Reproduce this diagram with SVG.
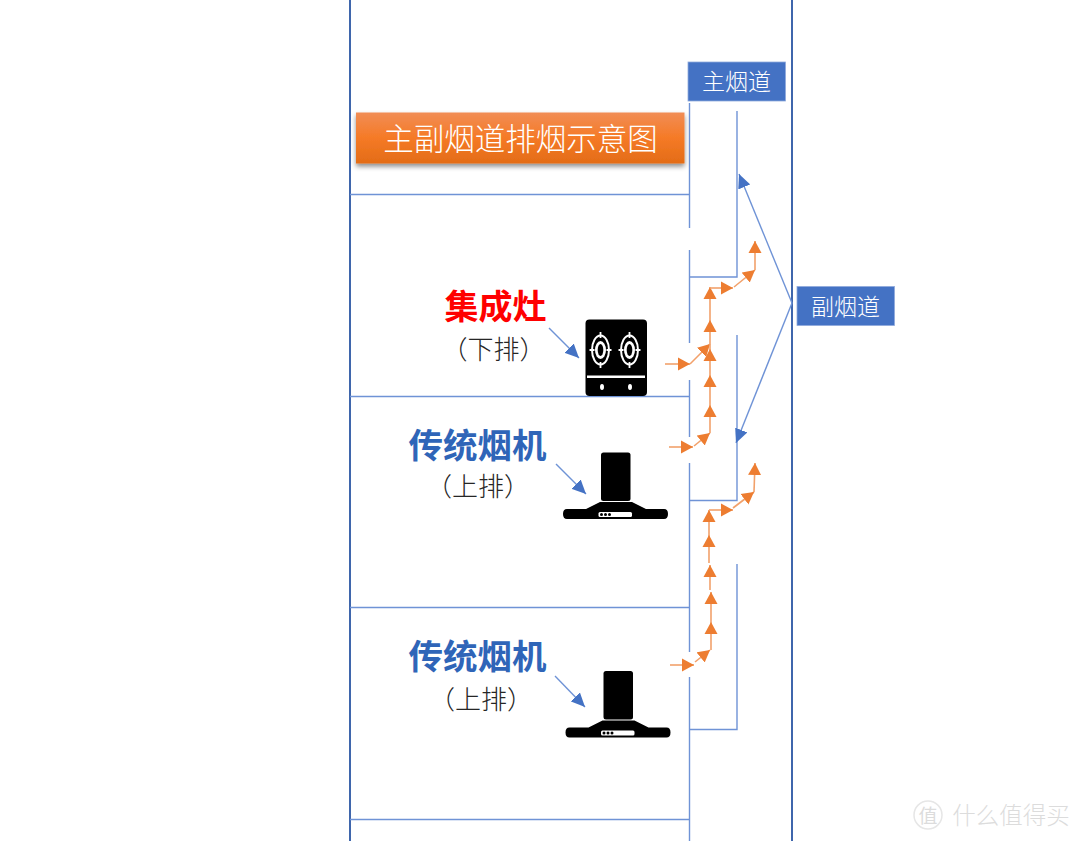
<svg xmlns="http://www.w3.org/2000/svg" width="1080" height="841" viewBox="0 0 1080 841">
<style>
text{font-family:"Noto Sans CJK SC","Noto Sans CJK JP",sans-serif;text-anchor:middle;dominant-baseline:central}
.wall{stroke:#6f93d6;stroke-width:1.4;fill:none}
.outer{stroke:#3f66ac;stroke-width:2;fill:none}
.o{stroke:#f2a16b;stroke-width:1.6;fill:none;marker-end:url(#ao)}
.b{stroke:#6f93d6;stroke-width:1.4;fill:none;marker-end:url(#ab)}
.box{fill:#4472c4;stroke:#8faadc;stroke-width:.8}
.boxt{fill:#fff;font-size:23px;font-weight:300}
.sub{fill:#262626;font-size:26px;font-weight:300}
.hot{fill:#2f65b8;font-size:34.500px;font-weight:700}
.k{fill:#000}.w{fill:#fff}
.ring{fill:none;stroke:#fff;stroke-width:2}
.tick{stroke:#fff;stroke-width:1.800}
</style>
<defs>
<marker id="ao" markerUnits="userSpaceOnUse" markerWidth="13" markerHeight="14" refX="12" refY="7" orient="auto"><path d="M0 .5L12 7L0 13.500Z" fill="#ed7d31"/></marker>
<marker id="ab" markerUnits="userSpaceOnUse" markerWidth="15" markerHeight="14" refX="14" refY="7" orient="auto"><path d="M0 .5L14 7L0 13.500Z" fill="#4472c4"/></marker>
<linearGradient id="og" x1="0" y1="0" x2="0" y2="1"><stop offset="0" stop-color="#f18d55"/><stop offset=".5" stop-color="#f57a26"/><stop offset="1" stop-color="#e36c17"/></linearGradient>
<filter id="sh" x="-5%" y="-20%" width="110%" height="150%"><feDropShadow dx="0" dy="3" stdDeviation="2.500" flood-color="#000" flood-opacity=".45"/></filter>
<g id="hood">
<rect class="k" x="601" y="452.500" width="29.500" height="48.500" rx="2.500"/>
<path class="k" d="M600 502H632L646 509H664Q668 509 668 514Q668 519 664 519H567Q563 519 563 514Q563 509 567 509H586Z"/>
<rect class="w" x="598.500" y="512" width="33.500" height="5" rx="1.500"/>
<circle class="k" cx="601.500" cy="514.500" r="1.500"/><circle class="k" cx="605.500" cy="514.500" r="1.500"/><circle class="k" cx="609.500" cy="514.500" r="1.500"/>
</g>
<g id="burner">
<ellipse class="ring" cx="0" cy="0" rx="8.500" ry="14.500"/>
<ellipse class="w" cx="0" cy="0" rx="5.500" ry="9"/>
<ellipse class="k" cx="0" cy="0" rx="2.800" ry="6"/>
<path class="tick" d="M0-18V-12M0 12V18M-11 0H-6M6 0H11"/>
</g>
</defs>
<rect width="1080" height="841" fill="#fff"/>
<g id="walls">
<path class="outer" d="M350 0V841M792 0V841"/>
<path class="wall" d="M350 194.500H689M350 396.500H689M350 607.500H689M350 819.500H689"/>
<path class="wall" d="M689.500 103V228M689.500 250V343M689.500 380V437M689.500 463V652M689.500 677V841"/>
<path class="wall" d="M737 111V277H689.500M737 335V500.500H689.500M737 564V729.500H689.500"/>
</g>
<g id="connectors">
<path class="b" d="M792 303L739 174"/>
<path class="b" d="M792 303L736 443"/>
<path class="b" d="M549 328L579 358"/>
<path class="b" d="M556 464L586 494"/>
<path class="b" d="M555 676L585 707"/>
<path class="o" d="M665 364H690"/>
<path class="o" d="M690 364L710 344"/>
<path class="o" d="M669 447H693"/>
<path class="o" d="M694 446L710 433"/>
<path class="o" d="M710 433V405"/>
<path class="o" d="M710 405V375"/>
<path class="o" d="M710 375V349"/>
<path class="o" d="M710 349V320"/>
<path class="o" d="M710 320V287"/>
<path class="o" d="M710 288H733"/>
<path class="o" d="M734 287L755 270"/>
<path class="o" d="M755 270V241"/>
<path class="o" d="M670 665H694"/>
<path class="o" d="M695 662L710 650"/>
<path class="o" d="M711 650V622"/>
<path class="o" d="M711 622V592"/>
<path class="o" d="M710 590V565"/>
<path class="o" d="M709 563V535"/>
<path class="o" d="M709 535V510"/>
<path class="o" d="M709 510H733"/>
<path class="o" d="M733 508L754 492"/>
<path class="o" d="M754 492L755 463"/>
</g>
<g id="title">
<rect x="356" y="112.500" width="328.500" height="51" fill="url(#og)" filter="url(#sh)"/>
<text x="520.500" y="136.500" fill="#fff" font-size="30.500" font-weight="300">主副烟道排烟示意图</text>
</g>
<g id="main-flue">
<rect class="box" x="688" y="62" width="97.500" height="39"/>
<text class="boxt" x="736.500" y="80">主烟道</text>
</g>
<g id="sub-flue">
<rect class="box" x="797" y="286.500" width="97.500" height="39"/>
<text class="boxt" x="845.500" y="304.500">副烟道</text>
</g>
<g id="stove-label">
<text x="495.500" y="304" fill="#ff0000" font-size="34" font-weight="700">集成灶</text>
<text class="sub" x="493.500" y="347.500">（下排）</text>
</g>
<g id="stove">
<rect class="k" x="585.500" y="319.500" width="61.500" height="76.500" rx="4"/>
<use href="#burner" x="600.500" y="350"/>
<use href="#burner" x="629.500" y="350"/>
<rect class="w" x="587" y="375.500" width="58" height="2.500"/>
<ellipse class="w" cx="602" cy="387" rx="2" ry="3"/>
<ellipse class="w" cx="630" cy="387" rx="2" ry="3"/>
</g>
<g id="hood-label-1">
<text class="hot" x="477.500" y="442.500">传统烟机</text>
<text class="sub" x="478" y="484">（上排）</text>
</g>
<g id="hood-1"><use href="#hood"/></g>
<g id="hood-label-2">
<text class="hot" x="477.500" y="653.500">传统烟机</text>
<text class="sub" x="481" y="697">（上排）</text>
</g>
<g id="hood-2"><use href="#hood" x="2.500" y="218.500"/></g>
<g id="watermark">
<circle cx="928" cy="815" r="14" fill="none" stroke="#e6e6e6" stroke-width="1.500"/>
<text x="928" y="814" font-size="19" fill="#dcdcdc">值</text>
<text x="1011" y="814" font-size="23.500" font-weight="300" fill="#dcdcdc">什么值得买</text>
</g>
</svg>
